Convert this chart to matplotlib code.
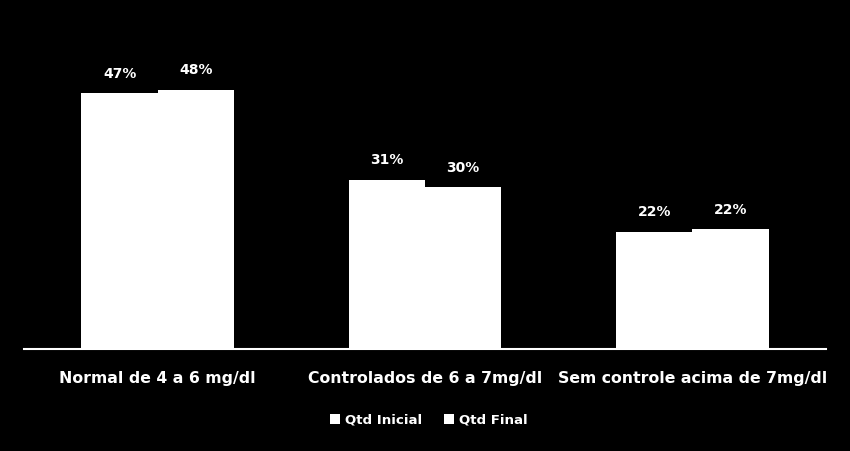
import matplotlib.pyplot as plt
import numpy as np

plt.rcParams['font.family'] = ['DejaVu Sans']

categories = ["Normal de 4 a 6 mg/dl", "Controlados de 6 a 7mg/dl", "Sem controle acima de 7mg/dl"]
qtd_inicial = [47.4, 31.3, 21.7]
qtd_final = [48.0, 30.0, 22.2]
series_names = ["Qtd Inicial", "Qtd Final"]


def plot_chart():
    fig = plt.figure(figsize=(8.5, 4.51), dpi=100, facecolor="black")
    ax = fig.add_axes([24 / 850, 102 / 451, 802 / 850, 324 / 451])
    ax.set_facecolor("black")

    x = np.arange(len(categories))
    w = 0.285
    b1 = ax.bar(x - w / 2, qtd_inicial, w, color="white", label=series_names[0])
    b2 = ax.bar(x + w / 2, qtd_final, w, color="white", label=series_names[1])

    for bars, vals in [(b1, qtd_inicial), (b2, qtd_final)]:
        for rect, v in zip(bars, vals):
            ax.annotate(f"{v:.0f}%", (rect.get_x() + rect.get_width() / 2, v),
                        xytext=(0, 9), textcoords="offset points",
                        ha="center", va="bottom", color="white",
                        fontsize=10, fontweight="bold")

    ax.set_xlim(-0.5, 2.5)
    ax.set_ylim(0, 60)
    ax.set_xticks(x)
    ax.set_xticklabels(categories, color="white", fontsize=11.3, fontweight="bold")
    ax.tick_params(axis="x", length=0, pad=16)
    ax.set_yticks([])
    for s in ["top", "right", "left"]:
        ax.spines[s].set_visible(False)
    ax.spines["bottom"].set_color("white")
    ax.spines["bottom"].set_linewidth(1.5)

    leg = fig.legend(loc="center", bbox_to_anchor=(429 / 850, 1 - 420 / 451), ncol=2,
                     frameon=False, handlelength=0.75, handleheight=0.75,
                     handletextpad=0.4, columnspacing=1.6,
                     prop={"size": 9.6, "weight": "bold"})
    for t in leg.get_texts():
        t.set_color("white")

    fig.savefig("out.png", dpi=100, facecolor="black")


plot_chart()
